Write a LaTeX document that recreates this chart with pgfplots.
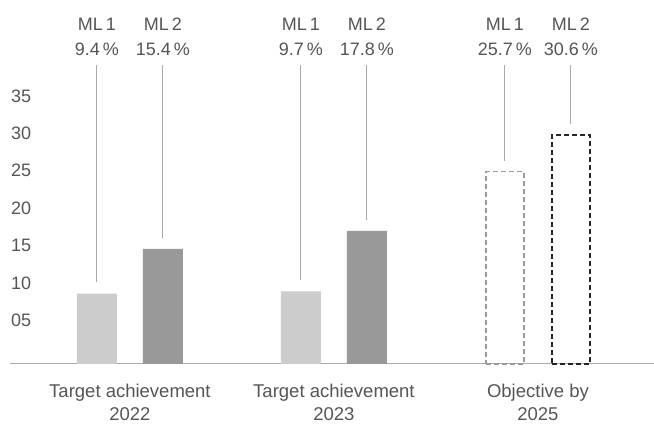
\documentclass[border=0pt]{standalone}
\usepackage{fontspec}
\setmainfont{Liberation Sans}
\usepackage{pgfplots}
\pgfplotsset{compat=1.18}
\definecolor{txt}{HTML}{555555}
\definecolor{mlone}{HTML}{CCCCCC}
\definecolor{mltwo}{HTML}{999999}
\definecolor{leader}{HTML}{AAAAAA}
\begin{document}
\begin{tikzpicture}
\useasboundingbox (0,0) rectangle (654pt,438pt);
\begin{axis}[
  at={(10pt,74pt)}, anchor=south west,
  scale only axis, width=644pt, height=299.2pt,
  xmin=-0.588, xmax=2.569, ymin=0, ymax=40,
  enlargelimits=false, clip=false,
  axis x line=bottom, axis y line=left,
  x axis line style={draw=leader, line width=1pt, -},
  y axis line style={draw=none},
  major tick length=0pt,
  xtick={0,1,2},
  xticklabels={Target achievement\\2022, Target achievement\\2023, Objective by\\2025},
  xticklabel style={align=center, text=txt, font=\fontsize{18.5}{23}\selectfont, yshift=-17pt},
  ytick={5,10,15,20,25,30,35},
  yticklabels={05,10,15,20,25,30,35},
  yticklabel style={anchor=base west, inner sep=0pt, xshift=1pt, text=txt, font=\fontsize{18}{22}\selectfont},
  /pgf/number format/assume math mode=true,
]
% bars
\addplot[ybar, bar width=40pt, bar shift=0pt, fill=mlone, draw=none] coordinates {(-0.1618,9.4) (0.8382,9.7)};
\addplot[ybar, bar width=40pt, bar shift=0pt, fill=mltwo, draw=none] coordinates {(0.1618,15.4) (1.1618,17.8)};
\addplot[ybar, bar width=38pt, bar shift=0pt, fill=none, draw=mltwo, line width=1.4pt, dash pattern=on 5pt off 3pt] coordinates {(1.8382,25.7)};
\addplot[ybar, bar width=38pt, bar shift=0pt, fill=none, draw=black!85, line width=1.4pt, dash pattern=on 5pt off 3pt] coordinates {(2.1618,30.6)};
% leader lines
\addplot[leader, line width=1pt] coordinates {(-0.1618,10.9) (-0.1618,40)};
\addplot[leader, line width=1pt] coordinates {(0.1618,16.9) (0.1618,40)};
\addplot[leader, line width=1pt] coordinates {(0.8382,11.2) (0.8382,40)};
\addplot[leader, line width=1pt] coordinates {(1.1618,19.3) (1.1618,40)};
\addplot[leader, line width=1pt] coordinates {(1.8382,27.2) (1.8382,40)};
\addplot[leader, line width=1pt] coordinates {(2.1618,32.1) (2.1618,40)};
% labels
\begin{scope}[every node/.style={anchor=south, align=center, inner sep=0pt, yshift=9pt, text=txt, font=\fontsize{18}{25}\selectfont}]
\node at (axis cs:-0.1618,40) {ML\,1\\9.4\,\%};
\node at (axis cs:0.1618,40) {ML\,2\\15.4\,\%};
\node at (axis cs:0.8382,40) {ML\,1\\9.7\,\%};
\node at (axis cs:1.1618,40) {ML\,2\\17.8\,\%};
\node at (axis cs:1.8382,40) {ML\,1\\25.7\,\%};
\node at (axis cs:2.1618,40) {ML\,2\\30.6\,\%};
\end{scope}
\end{axis}
\end{tikzpicture}
\end{document}
